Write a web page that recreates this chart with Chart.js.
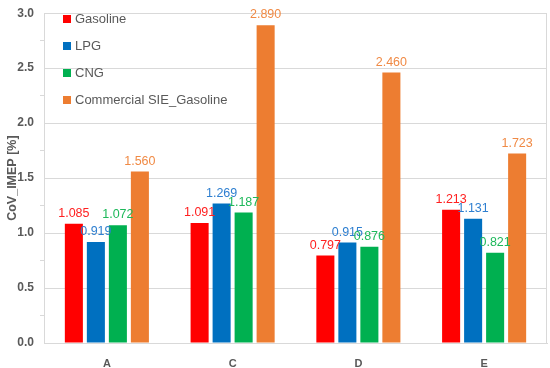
<!DOCTYPE html>
<html>
<head>
<meta charset="utf-8">
<script src="https://cdn.jsdelivr.net/npm/chart.js@4"></script>
<style>
  html, body { margin: 0; padding: 0; background: #fff; }
  #wrap { width: 550px; height: 368px; }
</style>
</head>
<body>
<div id="wrap"><canvas id="covChart" width="550" height="368"></canvas></div>
<script>
var categories = ['A', 'C', 'D', 'E'];
var gasoline = [1.085, 1.091, 0.797, 1.213];
var lpg = [0.919, 1.269, 0.915, 1.131];
var cng = [1.072, 1.187, 0.876, 0.821];
var commercialSie = [1.560, 2.890, 2.460, 1.723];
var seriesNames = ['Gasoline', 'LPG', 'CNG', 'Commercial SIE_Gasoline'];
var seriesColors = ['#FF0000', '#0070C0', '#00B050', '#ED7D31'];
var labelColors = ['#FF2020', '#2E7FD0', '#1DB85A', '#F08A45'];

var textGray = '#595959';

// value labels above each bar
var barLabels = {
    id: 'barLabels',
    afterDatasetsDraw: function (chart) {
        var ctx = chart.ctx;
        ctx.save();
        ctx.font = '12.5px "Liberation Sans", Arial, sans-serif';
        ctx.textAlign = 'center';
        ctx.textBaseline = 'bottom';
        chart.data.datasets.forEach(function (ds, i) {
            var meta = chart.getDatasetMeta(i);
            ctx.fillStyle = labelColors[i];
            meta.data.forEach(function (bar, j) {
                ctx.fillText(ds.data[j].toFixed(3), bar.x, bar.y - 4);
            });
        });
        ctx.restore();
    }
};

// legend drawn inside the plot, top left, one item per row
var innerLegend = {
    id: 'innerLegend',
    afterDraw: function (chart) {
        var ctx = chart.ctx;
        ctx.save();
        ctx.font = '13px "Liberation Sans", Arial, sans-serif';
        ctx.textBaseline = 'middle';
        chart.data.datasets.forEach(function (ds, i) {
            var y = 19 + i * 27;
            ctx.fillStyle = ds.backgroundColor;
            ctx.fillRect(63, y - 4, 8, 8);
            ctx.fillStyle = textGray;
            ctx.fillText(ds.label, 75, y);
        });
        ctx.restore();
    }
};

// light frame around plot area
var plotFrame = {
    id: 'plotFrame',
    beforeDatasetsDraw: function (chart) {
        var a = chart.chartArea;
        var ctx = chart.ctx;
        ctx.save();
        ctx.strokeStyle = '#d9d9d9';
        ctx.lineWidth = 1;
        ctx.strokeRect(Math.round(a.left) + 0.5, Math.round(a.top) + 0.5,
            Math.round(a.right - a.left) - 1, Math.round(a.bottom - a.top));
        ctx.restore();
    }
};

var allValues = [gasoline, lpg, cng, commercialSie];

function isMajor(c) {
    var v = c.tick ? c.tick.value : 0;
    return Math.abs(v * 2 - Math.round(v * 2)) < 1e-6;
}

document.addEventListener("DOMContentLoaded", function () {
    var ctx = document.getElementById('covChart').getContext('2d');
    var chart = new Chart(ctx, {
        type: 'bar',
        data: {
            labels: categories,
            datasets: allValues.map(function (vals, i) {
                return {
                    label: seriesNames[i],
                    data: vals,
                    backgroundColor: seriesColors[i],
                    borderWidth: 0
                };
            })
        },
        options: {
            responsive: false,
            animation: false,
            devicePixelRatio: 1,
            layout: { padding: { top: 8, right: 3, left: 0, bottom: 0 } },
            datasets: {
                bar: { categoryPercentage: 0.70, barPercentage: 0.82 }
            },
            plugins: {
                legend: { display: false },
                tooltip: { enabled: false }
            },
            scales: {
                x: {
                    grid: { display: false },
                    border: { color: '#d9d9d9' },
                    ticks: {
                        color: textGray,
                        font: { family: '"Liberation Sans", Arial, sans-serif', size: 11, weight: 'bold' },
                        padding: 6
                    },
                    afterFit: function (scale) { scale.height = 25; }
                },
                y: {
                    min: 0,
                    max: 3,
                    ticks: {
                        stepSize: 0.25,
                        color: textGray,
                        font: { family: '"Liberation Sans", Arial, sans-serif', size: 12, weight: 'bold' },
                        padding: 6,
                        callback: function (v) {
                            return Math.abs(v * 2 - Math.round(v * 2)) < 1e-6 ? v.toFixed(1) : '';
                        }
                    },
                    grid: {
                        color: function (c) { return isMajor(c) ? '#d9d9d9' : 'rgba(0,0,0,0)'; },
                        tickColor: function (c) { return isMajor(c) ? 'rgba(0,0,0,0)' : '#d9d9d9'; },
                        tickLength: 4
                    },
                    border: { color: '#d9d9d9' },
                    title: {
                        display: true,
                        text: 'CoV_IMEP [%]',
                        color: textGray,
                        font: { family: '"Liberation Sans", Arial, sans-serif', size: 12.5, weight: 'bold' },
                        padding: { top: 5, bottom: 0 }
                    },
                    afterFit: function (scale) { scale.width = 44; }
                }
            }
        },
        plugins: [plotFrame, barLabels, innerLegend]
    });
});
</script>
</body>
</html>
